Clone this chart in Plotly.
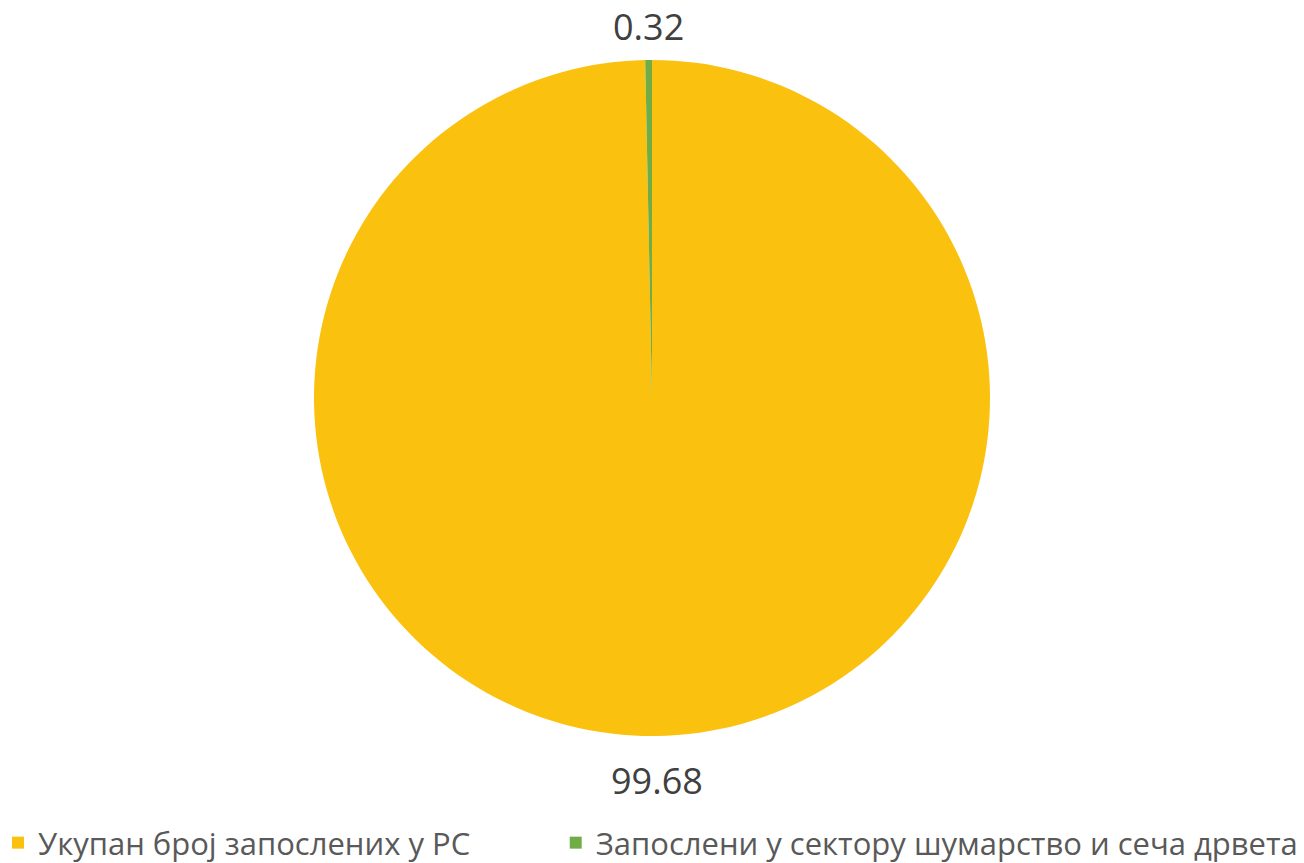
import plotly.graph_objects as go

labels = ["Укупан број запослених у РС", "Запослени у сектору шумарство и сеча дрвета"]
values = [99.68, 0.32]
colors = ["#FAC10E", "#70AD47"]

W, H = 1304, 863
cx, cy, r = 652, 398, 338

# trailing no-break spaces widen the first legend entry to match the reference spacing
legend_names = [labels[0] + "\u00a0" * 10, labels[1]]

fig = go.Figure(go.Pie(
    labels=legend_names,
    values=values,
    sort=False,
    direction="clockwise",
    rotation=0,
    marker=dict(colors=colors, line=dict(width=0)),
    textinfo="none",
    hovertext=labels,
    hoverinfo="text+value",
    domain=dict(x=[(cx - r) / W, (cx + r) / W],
                y=[1 - (cy + r) / H, 1 - (cy - r) / H]),
))

# data labels: small slice above the top, large slice below the bottom
label_pos = [(657, 780, "middle"), (648, 1, "top")]
for v, (lx, ly, ya) in zip(values, label_pos):
    fig.add_annotation(
        text=f"{v:.2f}", x=lx / W, y=1 - ly / H, xref="paper", yref="paper",
        xanchor="center", yanchor=ya, showarrow=False, borderpad=0,
        font=dict(size=36, color="#404040", family="Open Sans"),
    )

fig.update_layout(
    width=W, height=H,
    margin=dict(l=0, r=0, t=0, b=0, autoexpand=False),
    paper_bgcolor="white",
    plot_bgcolor="white",
    font=dict(family="Open Sans", color="#595959"),
    showlegend=True,
    legend=dict(
        orientation="h",
        x=-2 / W, xanchor="left",
        y=-7 / H, yanchor="bottom",
        bgcolor="rgba(0,0,0,0)",
        font=dict(size=31, color="#595959", family="Open Sans"),
        itemwidth=30,
    ),
)

fig.write_html("out.html", config={"displayModeBar": False},
               post_script="document.body.style.margin='0';document.body.style.overflow='hidden';")
